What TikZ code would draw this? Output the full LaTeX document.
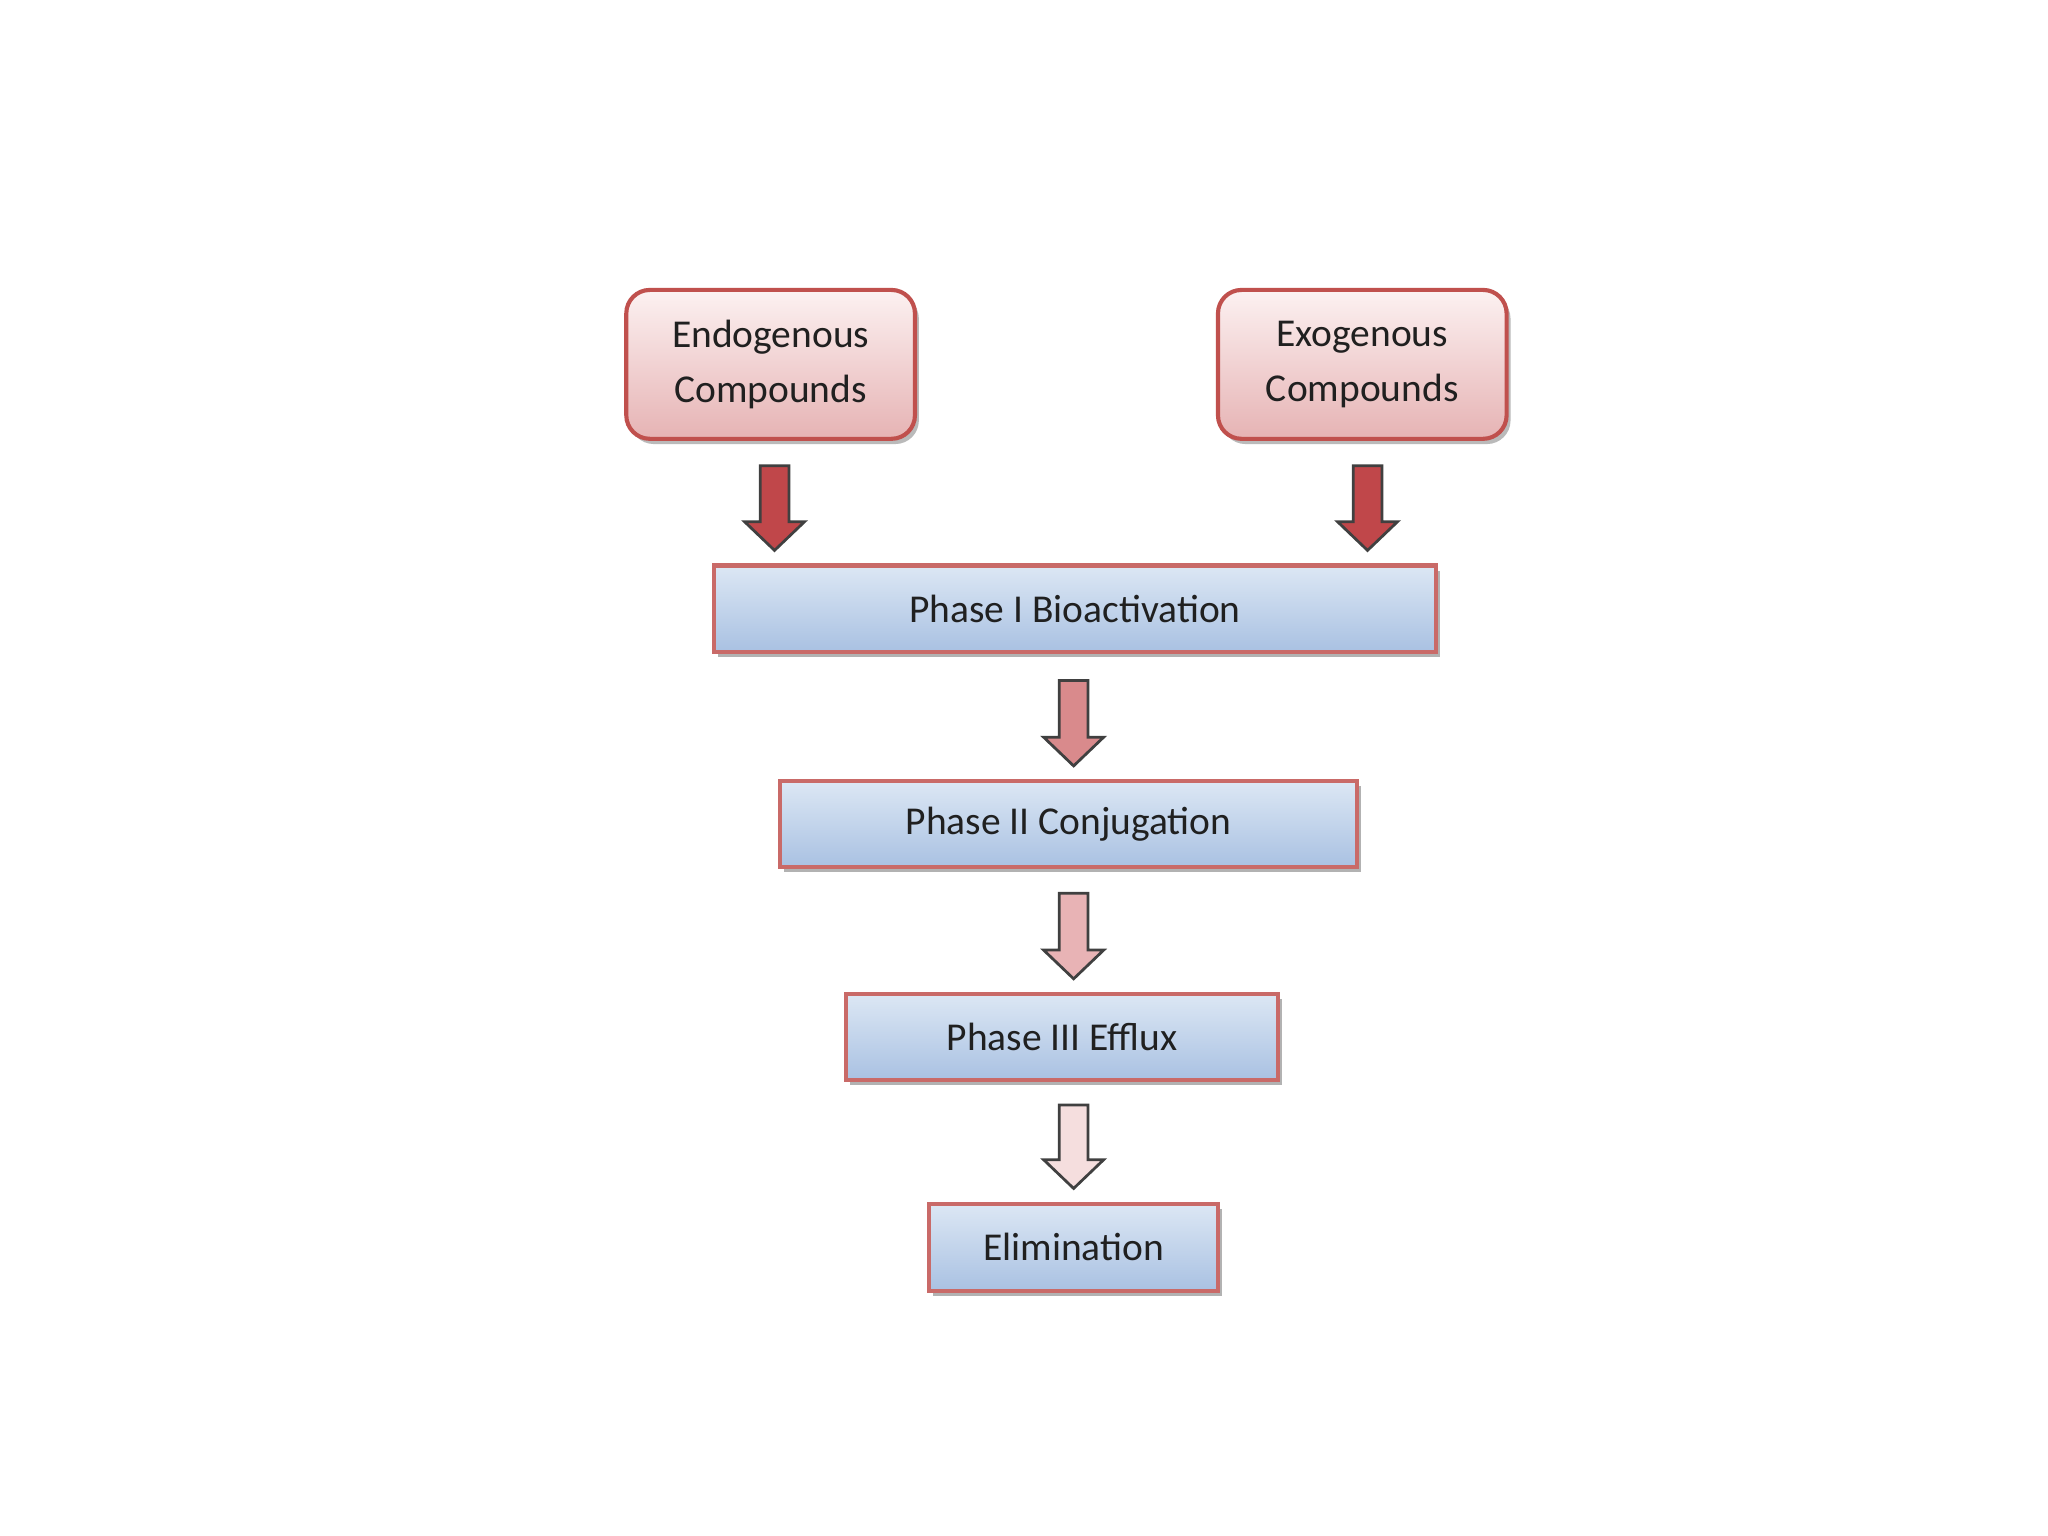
\documentclass[tikz,border=0pt]{standalone}
\usepackage{fontspec}
\setmainfont{Carlito}
\usepackage{tikz}
\usetikzlibrary{calc}
\usetikzlibrary{shadows}

\definecolor{boxred}{HTML}{C0504D}
\definecolor{pinktop}{HTML}{FCF1F1}
\definecolor{pinkbot}{HTML}{E6B3B4}
\definecolor{bluetop}{HTML}{DCE7F4}
\definecolor{bluebot}{HTML}{A9C1E2}
\definecolor{arrowA}{HTML}{C0474A}
\definecolor{arrowB}{HTML}{D98A8C}
\definecolor{arrowC}{HTML}{E8B3B5}
\definecolor{arrowD}{HTML}{F5DEDE}
\definecolor{textgray}{HTML}{202020}

\newcommand{\blockarrow}[3]{%
  \draw [arrowline, fill=#1] ($(#2)+(-0.11,0)$) -- ($(#3)+(-0.11,0.22)$) -- ($(#3)+(-0.23,0.22)$) -- (#3) -- ($(#3)+(0.23,0.22)$) -- ($(#3)+(0.11,0.22)$) -- ($(#2)+(0.11,0)$) -- cycle;}

\begin{document}
\begin{tikzpicture}[source/.style={rectangle, rounded corners=0.18cm, draw=boxred, line width=0.9pt, top color=pinktop, bottom color=pinkbot, minimum width=2.21cm, minimum height=1.14cm, align=center, inner sep=0pt, text=textgray, font=\fontsize{8.6}{11.9}\selectfont, drop shadow={shadow xshift=0.03cm, shadow yshift=-0.04cm, fill=black!45, opacity=0.6}}, phase/.style={rectangle, draw=boxred!85, line width=0.9pt, top color=bluetop, bottom color=bluebot, minimum height=0.66cm, inner sep=0pt, text=textgray, font=\fontsize{8.6}{11.9}\selectfont, drop shadow={shadow xshift=0.03cm, shadow yshift=-0.04cm, fill=black!50, opacity=0.6}}, arrowline/.style={draw=black!75, line width=0.6pt, line join=miter}]
\useasboundingbox [fill=white] (0,0) rectangle (15.68,11.76);
\node [source] (endo) at (5.90,8.97) {Endogenous\\Compounds};
\node [source] (exo) at (10.43,8.97) {Exogenous\\Compounds};
\node [phase, minimum width=5.53cm] (bioact) at (8.23,7.10) {Phase I Bioactivation};
\node [phase, minimum width=4.42cm] (conj) at (8.18,5.45) {Phase II Conjugation};
\node [phase, minimum width=3.31cm] (efflux) at (8.13,3.82) {Phase III Efflux};
\node [phase, minimum width=2.21cm, minimum height=0.67cm] (elim) at (8.22,2.21) {Elimination};
\coordinate (endoout) at ($(endo.south)+(0.03,-0.19)$);
\coordinate (endoin) at ($(endoout |- bioact.north)+(0,0.10)$);
\coordinate (exoout) at ($(exo.south)+(0.04,-0.19)$);
\coordinate (exoin) at ($(exoout |- bioact.north)+(0,0.10)$);
\coordinate (bioactout) at (8.22,6.55);
\coordinate (conjin) at ($(bioactout |- conj.north)+(0,0.10)$);
\coordinate (conjout) at (8.22,4.92);
\coordinate (effluxin) at ($(conjout |- efflux.north)+(0,0.10)$);
\coordinate (effluxout) at (8.22,3.30);
\coordinate (elimin) at ($(effluxout |- elim.north)+(0,0.10)$);
\blockarrow{arrowA}{endoout}{endoin}
\blockarrow{arrowA}{exoout}{exoin}
\blockarrow{arrowB}{bioactout}{conjin}
\blockarrow{arrowC}{conjout}{effluxin}
\blockarrow{arrowD}{effluxout}{elimin}
\end{tikzpicture}
\end{document}
